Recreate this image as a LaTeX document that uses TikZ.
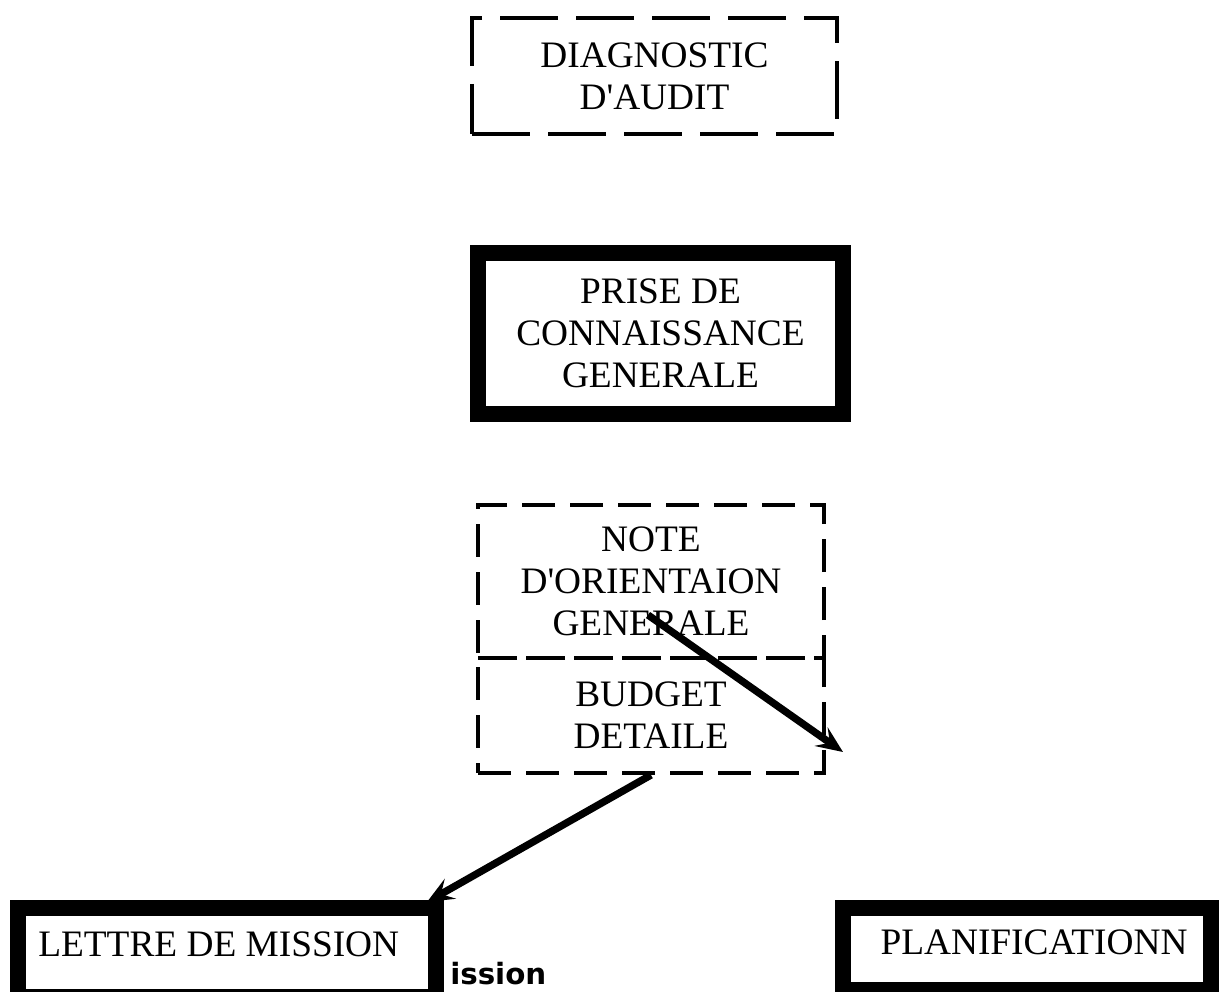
\documentclass[tikz,border=0pt]{standalone}
\usepackage{fontspec}
\setmainfont{Liberation Serif}
\newfontfamily\labelsans{DejaVu Sans}
\usepackage{tikz}
\usetikzlibrary{arrows.meta}

\begin{document}
\begin{tikzpicture}[x=0.75pt,y=0.75pt,yscale=-1,
  boxtext/.style={font=\fontsize{28}{31.5}\selectfont, align=center, inner sep=0.75pt},
  auditbox/.style={draw, line width=3pt, dash pattern=on 43.5pt off 13.5pt},
  notebox/.style={draw, line width=3pt, dash pattern=on 24.75pt off 11.25pt},
  heavybox/.style={draw, line width=12pt, fill=white},
  fatarrow/.style={line width=5.5pt, -{Stealth[length=20pt,width=17pt,inset=8pt]}}]
\useasboundingbox (0,0) rectangle (1219,991);
\clip (0,0) rectangle (1219,991);

%Shape: Dashed Rectangle [diag]
\node (diag) [auditbox, boxtext, minimum width=273.75pt, minimum height=87pt] at (654.5,76) {DIAGNOSTIC\\D\textquotesingle AUDIT};
%Shape: Heavy Rectangle [prise]
\node (prise) [heavybox, boxtext, minimum width=273.75pt, minimum height=120.75pt] at (660.5,333) {PRISE DE\\CONNAISSANCE\\GENERALE};
%Shape: Dashed Rectangle [note]
\node (note) [notebox, boxtext, minimum width=259.5pt, minimum height=114.75pt] at (651,581.5) {NOTE\\D\textquotesingle ORIENTAION\\GENERALE};
%Shape: Dashed Rectangle [budget]
\node (budget) [notebox, boxtext, minimum width=259.5pt, minimum height=86.25pt] at (651,715.5) {BUDGET\\DETAILE};

% Text Node
\node (mission) [anchor=base west, inner sep=0pt, font=\labelsans\bfseries\fontsize{22}{26}\selectfont] at (450,984) {ission};

%Shape: Heavy Rectangle [lettre]
\node (lettre) [heavybox, minimum width=313.5pt, minimum height=66.75pt] at (227,952.5) {};
% Text Node
\node (lettretxt) [boxtext, anchor=base west] at (37,956) {LETTRE DE MISSION};
%Shape: Heavy Rectangle [planif]
\node (planif) [heavybox, minimum width=276pt, minimum height=61.5pt] at (1027,949) {};
% Text Node
\node (planiftxt) [boxtext, anchor=base] at (1034,954) {PLANIFICATIONN};

%Arrows
\coordinate (startA) at (648,615);
\coordinate (tipA) at (843,752);
\draw [fatarrow] (startA) -- (tipA);
\coordinate (tipB) at (427,902);
\draw [fatarrow] (budget.south) -- (tipB);
\end{tikzpicture}
\end{document}
